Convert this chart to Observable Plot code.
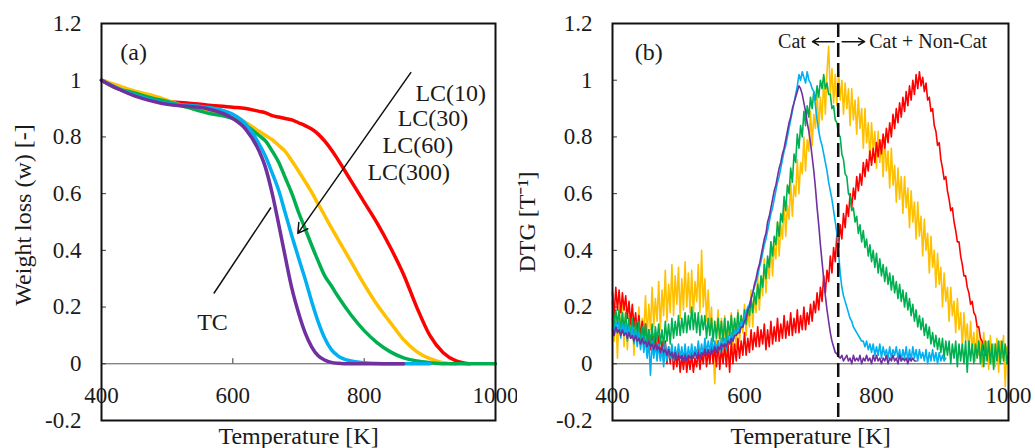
<!DOCTYPE html>
<html><head><meta charset="utf-8">
<script src="https://cdn.jsdelivr.net/npm/d3@7"></script>
<script src="https://cdn.jsdelivr.net/npm/@observablehq/plot@0.6"></script>
<style>
body{margin:0;background:#fff;}
#wrap{display:flex;width:1035px;height:448px;overflow:hidden;}
svg{display:block;overflow:visible}
</style></head><body><div id="wrap"></div>
<script>
// ---------- data ----------
const seriesNames = ["LC(10)", "LC(30)", "LC(60)", "LC(300)", "TC"];
const seriesColors = ["#ff0000", "#ffc000", "#00b050", "#00b0f0", "#7030a0"];
const xTicks = [400, 600, 800, 1000];
const yTicks = [-0.2, 0, 0.2, 0.4, 0.6, 0.8, 1, 1.2];

// panel (a): weight loss
const tempsA = [400,420,450,480,500,530,560,600,620,640,650,660,670,680,690,700,710,720,730,740,750,760,780,800,820,840,860,880,900,920,940,960,980,1000];
const wLC10  = [1.0,0.975,0.955,0.935,0.925,0.92,0.913,0.905,0.9,0.89,0.885,0.875,0.87,0.865,0.86,0.85,0.84,0.828,0.81,0.785,0.755,0.72,0.645,0.57,0.495,0.41,0.315,0.2,0.1,0.04,0.01,0,null,null];
const wLC30  = [1.0,0.985,0.962,0.945,0.93,0.905,0.89,0.875,0.85,0.82,0.805,0.79,0.77,0.748,0.715,0.68,0.643,0.605,0.563,0.522,0.48,0.44,0.36,0.28,0.207,0.145,0.085,0.043,0.018,0.004,0,null,null,null];
const wLC60  = [1.0,0.975,0.955,0.935,0.925,0.905,0.885,0.865,0.84,0.805,0.785,0.75,0.71,0.655,0.60,0.535,0.477,0.418,0.362,0.31,0.275,0.238,0.172,0.117,0.074,0.042,0.021,0.01,0.004,0,0,0,0,0];
const wLC300 = [1.0,0.977,0.948,0.928,0.918,0.912,0.905,0.88,0.845,0.775,0.73,0.672,0.61,0.53,0.45,0.374,0.30,0.22,0.148,0.09,0.05,0.028,0.01,0.004,0.001,0,0,0,0,null,null,null,null,null];
const wTC    = [1.0,0.975,0.945,0.925,0.915,0.908,0.9,0.865,0.826,0.75,0.69,0.60,0.49,0.375,0.265,0.18,0.11,0.06,0.028,0.013,0.005,0.002,0,0,0,0,0,null,null,null,null,null,null,null];

// panel (b): DTG, sampled every 2.5 K from 400 K (one row = 10 K)
const tempsB = d3.range(400, 1000.1, 2.5);
const dtgLC10 = [
0.25,0.17,0.27,0.19, 0.26,0.18,0.25,0.19, 0.24,0.16,0.22,0.14, 0.21,0.13,0.18,0.11,
0.17,0.09,0.15,0.08, 0.14,0.06,0.12,0.05, 0.12,0.04,0.10,0.03, 0.10,0.02,0.08,0.01,
0.08,0.00,0.06,0.00, 0.06,-0.02,0.04,-0.01, 0.05,-0.03,0.03,-0.02, 0.04,-0.03,0.03,-0.02,
0.04,-0.03,0.02,-0.01, 0.05,-0.02,0.04,0.00, 0.06,-0.01,0.05,0.00, 0.07,0.00,0.06,-0.01,
0.08,-0.02,0.06,0.00, 0.07,-0.01,0.07,-0.03, 0.08,0.00,0.07,0.01, 0.09,0.02,0.08,0.03,
0.11,0.03,0.09,0.04, 0.12,0.05,0.11,0.06, 0.13,0.06,0.12,0.07, 0.14,0.05,0.12,0.06,
0.15,0.07,0.13,0.08, 0.16,0.08,0.14,0.09, 0.17,0.09,0.15,0.10, 0.18,0.10,0.16,0.11,
0.19,0.11,0.17,0.12, 0.20,0.12,0.18,0.14, 0.21,0.15,0.22,0.18, 0.25,0.19,0.27,0.22,
0.31,0.25,0.33,0.29, 0.38,0.32,0.41,0.36, 0.46,0.41,0.49,0.44, 0.53,0.48,0.56,0.52,
0.60,0.55,0.62,0.58, 0.66,0.61,0.67,0.63, 0.71,0.66,0.72,0.68, 0.75,0.70,0.76,0.71,
0.78,0.73,0.79,0.74, 0.81,0.76,0.83,0.78, 0.85,0.80,0.88,0.83, 0.90,0.85,0.92,0.87,
0.94,0.89,0.96,0.91, 0.98,0.93,1.00,0.95, 1.02,0.97,1.03,0.98, 1.01,0.96,0.99,0.93,
0.94,0.89,0.90,0.84, 0.82,0.77,0.78,0.72, 0.69,0.65,0.66,0.61, 0.58,0.54,0.55,0.50,
0.47,0.43,0.43,0.38, 0.35,0.31,0.31,0.27, 0.25,0.21,0.22,0.18, 0.17,0.13,0.13,0.09,
0.08,0.05,0.03];
const dtgLC30 = [
0.26,0.08,0.18,0.02, 0.20,0.10,0.22,0.06, 0.19,0.05,0.17,0.10, 0.18,0.03,0.14,0.08,
0.20,0.07,0.16,0.11, 0.24,0.09,0.21,0.12, 0.27,0.13,0.23,0.15, 0.29,0.12,0.26,0.17,
0.33,0.15,0.28,0.18, 0.35,0.17,0.31,0.21, 0.34,0.16,0.30,0.19, 0.36,0.20,0.32,0.18,
0.33,0.17,0.29,0.22, 0.35,0.18,0.40,0.20, 0.30,0.15,0.26,0.12, 0.20,0.04,-0.07,0.10,
0.19,0.06,0.16,0.05, 0.17,0.03,0.15,0.07, 0.18,0.05,0.14,0.06, 0.19,0.08,0.17,0.11,
0.21,0.10,0.19,0.13, 0.26,0.13,0.24,0.18, 0.31,0.19,0.30,0.24, 0.37,0.25,0.36,0.30,
0.43,0.31,0.42,0.37, 0.50,0.38,0.49,0.44, 0.57,0.45,0.56,0.51, 0.64,0.52,0.63,0.59,
0.72,0.60,0.71,0.67, 0.80,0.68,0.79,0.75, 0.89,0.77,0.88,0.83, 0.96,0.82,0.94,0.86,
1.01,0.88,1.03,1.12, 0.95,1.04,0.92,1.02, 0.91,1.03,0.93,1.00, 0.88,0.99,0.90,0.97,
0.84,0.97,0.86,0.93, 0.81,0.94,0.83,0.90, 0.76,0.90,0.78,0.85, 0.72,0.85,0.75,0.82,
0.69,0.82,0.71,0.79, 0.66,0.80,0.68,0.75, 0.62,0.76,0.63,0.70, 0.57,0.69,0.58,0.66,
0.53,0.66,0.55,0.62, 0.48,0.61,0.50,0.57, 0.44,0.57,0.45,0.52, 0.38,0.51,0.40,0.46,
0.32,0.45,0.34,0.40, 0.27,0.39,0.28,0.34, 0.20,0.32,0.22,0.27, 0.15,0.27,0.17,0.22,
0.11,0.23,0.12,0.18, 0.06,0.18,0.08,0.14, 0.03,0.15,0.05,0.11, 0.01,0.13,0.03,0.09,
-0.01,0.11,0.01,0.08, -0.02,0.10,0.00,0.07, -0.01,0.09,-0.03,0.08, 0.02,0.10,-0.08,0.06,
0.04];
const dtgLC60 = [
0.22,0.13,0.19,0.14, 0.19,0.11,0.18,0.12, 0.18,0.10,0.16,0.09, 0.16,0.08,0.15,0.09,
0.15,0.07,0.13,0.08, 0.14,0.06,0.12,0.07, 0.14,0.06,0.13,0.08, 0.14,0.07,0.12,0.06,
0.15,0.08,0.14,0.07, 0.16,0.09,0.15,0.10, 0.17,0.10,0.16,0.11, 0.18,0.11,0.17,0.12,
0.20,0.12,0.18,0.11, 0.18,0.10,0.17,0.12, 0.17,0.09,0.16,0.10, 0.16,0.08,0.15,0.09,
0.16,0.09,0.15,0.08, 0.16,0.08,0.15,0.10, 0.17,0.10,0.16,0.11, 0.18,0.11,0.17,0.13,
0.19,0.14,0.20,0.17, 0.23,0.18,0.25,0.21, 0.28,0.23,0.31,0.27, 0.35,0.30,0.38,0.34,
0.43,0.38,0.45,0.42, 0.50,0.45,0.53,0.50, 0.59,0.54,0.63,0.60, 0.69,0.64,0.74,0.71,
0.81,0.76,0.84,0.80, 0.89,0.84,0.91,0.87, 0.94,0.90,0.96,0.93, 0.98,0.94,1.00,0.97,
1.02,0.97,0.99,0.95, 0.95,0.90,0.91,0.86, 0.85,0.81,0.80,0.74, 0.72,0.67,0.66,0.60,
0.59,0.54,0.55,0.50, 0.52,0.46,0.49,0.43, 0.47,0.41,0.44,0.38, 0.42,0.36,0.40,0.34,
0.39,0.32,0.37,0.31, 0.35,0.29,0.34,0.28, 0.32,0.26,0.31,0.25, 0.29,0.23,0.28,0.22,
0.26,0.20,0.25,0.19, 0.23,0.17,0.21,0.15, 0.19,0.13,0.17,0.12, 0.16,0.10,0.14,0.09,
0.13,0.07,0.11,0.06, 0.10,0.05,0.09,0.04, 0.09,0.02,0.08,0.03, 0.08,0.00,0.07,0.02,
0.08,-0.01,0.07,0.01, 0.07,0.00,0.08,-0.03, 0.08,0.01,0.07,0.00, 0.07,0.02,0.08,0.00,
0.07,-0.01,0.08,0.01, 0.08,0.00,0.07,-0.02, 0.07,0.01,0.08,0.00, 0.08,0.01,0.07,0.00,
0.04];
const dtgLC300 = [
0.16,0.10,0.15,0.11, 0.15,0.09,0.14,0.10, 0.14,0.08,0.13,0.09, 0.13,0.07,0.12,0.06,
0.11,0.05,0.10,0.04, 0.09,0.02,0.08,-0.04, 0.08,0.02,0.07,0.01, 0.07,0.01,0.06,-0.01,
0.07,0.01,0.06,0.02, 0.07,0.01,0.06,0.02, 0.07,0.02,0.06,0.01, 0.07,0.01,0.06,0.02,
0.07,0.02,0.06,0.03, 0.08,0.03,0.07,0.03, 0.09,0.04,0.08,0.04, 0.09,0.04,0.08,0.05,
0.08,0.04,0.09,0.05, 0.09,0.05,0.10,0.07, 0.11,0.08,0.12,0.10, 0.13,0.11,0.15,0.14,
0.17,0.18,0.20,0.21, 0.23,0.25,0.27,0.29, 0.31,0.34,0.36,0.39, 0.42,0.44,0.47,0.50,
0.53,0.55,0.58,0.61, 0.64,0.66,0.69,0.72, 0.75,0.77,0.80,0.83, 0.86,0.89,0.92,0.95,
0.98,1.02,1.00,1.03, 1.01,0.99,1.03,1.00, 0.99,0.97,0.96,0.91, 0.86,0.82,0.79,0.77,
0.74,0.71,0.68,0.64, 0.61,0.58,0.54,0.50, 0.46,0.39,0.32,0.27, 0.24,0.22,0.20,0.18,
0.16,0.15,0.13,0.12, 0.11,0.10,0.09,0.08, 0.08,0.06,0.08,0.05, 0.07,0.04,0.07,0.03,
0.06,0.03,0.07,0.02, 0.06,0.03,0.05,0.02, 0.06,0.02,0.05,0.03, 0.06,0.02,0.05,0.01,
0.05,0.02,0.06,0.01, 0.05,0.01,0.06,0.02, 0.05,0.01,0.05,0.02, 0.04,0.01,0.05,0.00,
0.04,0.01,0.05,0.01, 0.04,0.00,0.04,0.01, 0.03,0.01,0.02];
const dtgTC = [
0.12,0.10,0.13,0.11, 0.12,0.10,0.12,0.10, 0.11,0.09,0.11,0.09, 0.10,0.08,0.10,0.08,
0.09,0.07,0.09,0.07, 0.08,0.06,0.08,0.06, 0.07,0.05,0.07,0.05, 0.06,0.04,0.06,0.04,
0.05,0.03,0.05,0.03, 0.04,0.02,0.04,0.02, 0.03,0.02,0.03,0.01, 0.03,0.01,0.03,0.02,
0.03,0.02,0.04,0.02, 0.04,0.02,0.04,0.03, 0.05,0.03,0.05,0.03, 0.05,0.04,0.06,0.04,
0.06,0.05,0.07,0.06, 0.07,0.06,0.08,0.07, 0.09,0.08,0.10,0.10, 0.11,0.11,0.13,0.13,
0.15,0.16,0.19,0.20, 0.23,0.25,0.28,0.30, 0.33,0.35,0.38,0.41, 0.44,0.46,0.50,0.52,
0.55,0.58,0.61,0.63, 0.66,0.69,0.71,0.74, 0.76,0.79,0.82,0.85, 0.87,0.90,0.92,0.94,
0.96,0.98,0.97,0.95, 0.92,0.89,0.85,0.82, 0.78,0.73,0.68,0.62, 0.55,0.49,0.42,0.36,
0.30,0.24,0.19,0.15, 0.11,0.08,0.06,0.04, 0.035,0.025,0.02,0.03, 0.01,0.02,0.03,0.01,
0.02,0.00,0.03,0.01, 0.02,0.01,0.03,0.00, 0.02,0.01,0.03,0.01, 0.02,0.00,0.03,0.01,
0.03,0.01,0.02,0.00, 0.02,0.01,0.03,0.00, 0.02,0.01,0.03,0.01, 0.02,0.00,0.03,0.01,
0.02,0.01,0.02,0.00, 0.02,0.01,0.02,0.01, 0.01];

const cutTemp = 742; // dashed boundary in (b)

// ---------- build rows ----------
function rows(temps, arrs) {
  return arrs.map((arr, k) => arr.map((v, i) => ({T: temps[i], v, s: seriesNames[k]})).filter(d => d.v != null));
}
const rowsA = rows(tempsA, [wLC10, wLC30, wLC60, wLC300, wTC]);
const rowsB = rows(tempsB, [dtgLC10, dtgLC30, dtgLC60, dtgLC300, dtgTC]);

const font = "'Liberation Serif', 'Times New Roman', Times, serif";
const fmt = d => String(+d.toFixed(1));

function basePanel(o) {
  const lineMarks = o.order.map(k => Plot.line(o.rows[k], {x: "T", y: "v", stroke: seriesColors[k], strokeWidth: o.sw, curve: o.curve}));
  return Plot.plot({
    width: o.width, height: 448,
    marginLeft: o.ml, marginRight: o.mr, marginTop: 23, marginBottom: 28,
    x: {domain: [400, 1000], axis: null},
    y: {domain: [-0.2, 1.2]},
    style: {fontFamily: font, color: "#1a1a1a", background: "#fff", overflow: "visible"},
    marks: [
      Plot.ruleY([0], {stroke: "#555", strokeWidth: 1}),
      ...(o.xTickMarks ? [Plot.ruleX(xTicks.slice(1, -1), {x: d => d, y1: 0, y2: 0.018, stroke: "#333"})] : []),
      Plot.ruleY(yTicks.slice(1, -1), {y: d => d, x1: 400, x2: 407.5, stroke: "#333"}),
      ...lineMarks,
      ...o.after,
      Plot.axisY(yTicks, {tickSize: 0, tickPadding: 20, tickFormat: fmt, fontSize: 23, label: null}),
      Plot.text(xTicks, {x: d => d, y: 0, text: d => String(d), dy: 32, fontSize: 23, lineAnchor: "middle"}),
      Plot.text([o.ylabel], {text: d => d, frameAnchor: "left", dx: o.ylabelDx, dy: o.ylabelDy, rotate: -90, fontSize: 24, textAnchor: "middle", lineAnchor: "middle"}),
      Plot.text(["Temperature [K]"], {text: d => d, frameAnchor: "bottom", dy: 16, fontSize: 24, textAnchor: "middle", lineAnchor: "middle"}),
      Plot.frame({stroke: "#111", strokeWidth: 2})
    ]
  });
}

// annotations (a)
const annA = {
  tag: [{x: 449, y: 1.098, t: "(a)"}],
  lc: [{x: 878, y: 0.953, t: "LC(10)"}, {x: 851, y: 0.865, t: "LC(30)"}, {x: 828, y: 0.770, t: "LC(60)"}, {x: 805, y: 0.675, t: "LC(300)"}],
  arrow: [{x1: 871, y1: 1.027, x2: 699, y2: 0.46}],
  tcLine: [{x1: 571, y1: 0.248, x2: 658, y2: 0.551}],
  tc: [{x: 569, y: 0.146, t: "TC"}]
};
const panelA = basePanel({
  width: 517, ml: 101, mr: 22, sw: 3.5, curve: "monotone-x",
  rows: rowsA, order: [0, 1, 2, 3, 4], xTickMarks: true,
  ylabel: "Weight loss (w) [-]", ylabelDx: -78, ylabelDy: -7,
  after: [
    Plot.text(annA.tag, {x: "x", y: "y", text: "t", fontSize: 24}),
    Plot.text(annA.lc, {x: "x", y: "y", text: "t", fontSize: 24, textAnchor: "start"}),
    Plot.arrow(annA.arrow, {x1: "x1", y1: "y1", x2: "x2", y2: "y2", stroke: "#111", strokeWidth: 1.5, headLength: 11}),
    Plot.link(annA.tcLine, {x1: "x1", y1: "y1", x2: "x2", y2: "y2", stroke: "#111", strokeWidth: 1.5}),
    Plot.text(annA.tc, {x: "x", y: "y", text: "t", fontSize: 24})
  ]
});

// annotations (b)
const annB = {
  tag: [{x: 455, y: 1.099, t: "(b)"}],
  left: [{x: 693, y: 1.136, t: "Cat"}],
  right: [{x: 789, y: 1.136, t: "Cat + Non-Cat"}],
  arrows: [{x1: 736, y1: 1.136, x2: 703, y2: 1.136}, {x1: 748, y1: 1.136, x2: 782, y2: 1.136}]
};
const panelB = basePanel({
  width: 518, ml: 95, mr: 27, sw: 1.6, curve: "linear",
  rows: rowsB, order: [1, 0, 2, 3, 4], xTickMarks: false,
  ylabel: "DTG [T\u207B\u00B9]", ylabelDx: -85, ylabelDy: 0,
  after: [
    Plot.ruleX([cutTemp], {x: d => d, stroke: "#111", strokeWidth: 2.5, strokeDasharray: "14,6"}),
    Plot.text(annB.tag, {x: "x", y: "y", text: "t", fontSize: 24}),
    Plot.text(annB.left, {x: "x", y: "y", text: "t", fontSize: 20, textAnchor: "end"}),
    Plot.text(annB.right, {x: "x", y: "y", text: "t", fontSize: 20, textAnchor: "start"}),
    Plot.arrow(annB.arrows, {x1: "x1", y1: "y1", x2: "x2", y2: "y2", stroke: "#111", strokeWidth: 1.5, headLength: 7})
  ]
});

document.getElementById("wrap").append(panelA, panelB);
</script>
</body></html>
